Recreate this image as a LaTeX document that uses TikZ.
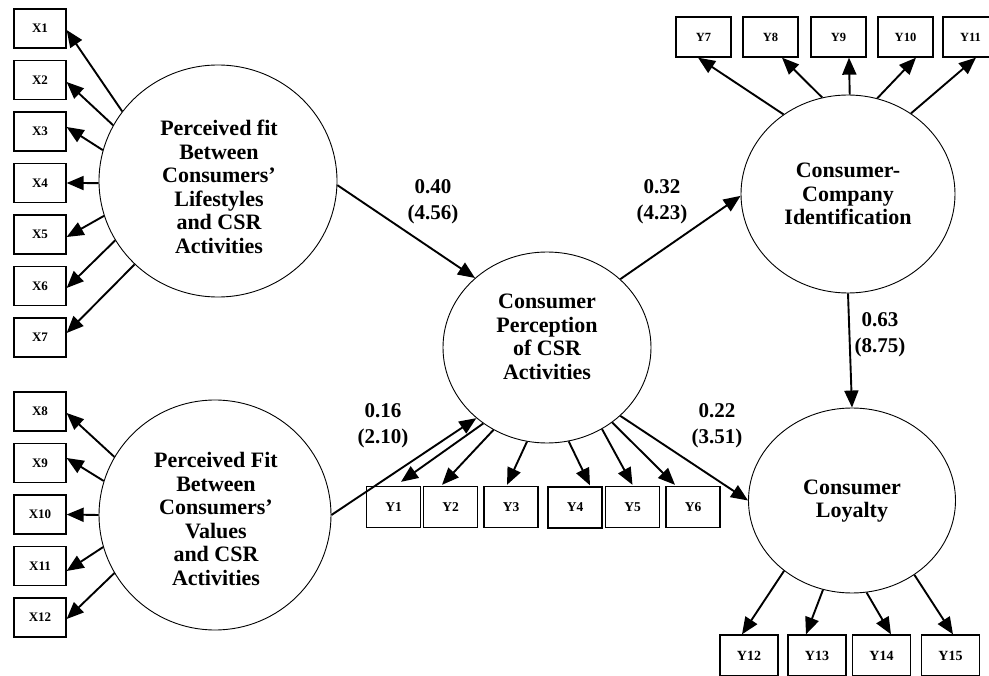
\documentclass[tikz,border=0pt]{standalone}
\usepackage{fontspec}
\setmainfont{Liberation Serif}
\usetikzlibrary{shapes.geometric,arrows.meta}
\tikzset{
  lat/.style={ellipse, draw, line width=0.9pt, inner sep=0pt},
  lattext/.style={font=\fontsize{22}{23.5}\selectfont\bfseries, align=center, inner sep=0pt},
  indbox/.style={rectangle, draw, line width=1.3pt, inner sep=0pt},
  xbox/.style={indbox, minimum width=52pt, minimum height=39pt, font=\fontsize{13}{13}\selectfont\bfseries},
  ybox/.style={indbox, minimum width=54pt, minimum height=41pt, font=\fontsize{13.5}{13.5}\selectfont\bfseries},
  ytop/.style={indbox, minimum width=55pt, minimum height=40pt, font=\fontsize{12.5}{12.5}\selectfont\bfseries},
  ybot/.style={indbox, minimum width=58pt, minimum height=41pt, font=\fontsize{14}{14}\selectfont\bfseries},
  pathlbl/.style={font=\fontsize{21}{26.5}\selectfont\bfseries, align=center, inner sep=0pt},
  arr/.style={line width=1.9pt, -{Triangle[length=17pt,width=14pt]}}
}
\begin{document}
\begin{tikzpicture}[x=1pt,y=-1pt]
\useasboundingbox (0,0) rectangle (989,676);
\clip (0,0) rectangle (989,676);
\fill[white] (0,0) rectangle (989,676);

% latent variables
\node[lat, minimum width=238pt, minimum height=232pt] (c1) at (218,181) {};
\node[lat, minimum width=232pt, minimum height=230pt] (c2) at (215,515) {};
\node[lat, minimum width=208pt, minimum height=191pt] (cp) at (547,347.5) {};
\node[lat, minimum width=214pt, minimum height=198pt] (ci) at (848,194) {};
\node[lat, minimum width=207pt, minimum height=185pt] (cl) at (852,500.5) {};

\node[lattext] (t1) at (219,187) {Perceived fit\\Between\\Consumers’\\Lifestyles\\and CSR\\Activities};
\node[lattext] (t2) at (216,519) {Perceived Fit\\Between\\Consumers’\\Values\\and CSR\\Activities};
\node[lattext] (tp) at (547,337) {Consumer\\Perception\\of CSR\\Activities};
\node[lattext] (ti) at (848,194) {Consumer-\\Company\\Identification};
\node[lattext] (tl) at (852,501) {Consumer\\Loyalty};

% X indicators
\node[xbox] (x1) at (40,28.5) {X1};
\node[xbox] (x2) at (40,80) {X2};
\node[xbox] (x3) at (40,131.5) {X3};
\node[xbox] (x4) at (40,183) {X4};
\node[xbox] (x5) at (40,234.5) {X5};
\node[xbox] (x6) at (40,286) {X6};
\node[xbox] (x7) at (40,337.5) {X7};
\node[xbox] (x8) at (40,411.5) {X8};
\node[xbox] (x9) at (40,463) {X9};
\node[xbox] (x10) at (40,514.5) {X10};
\node[xbox] (x11) at (40,566) {X11};
\node[xbox] (x12) at (40,617.5) {X12};

% Y indicators
\node[ybox] (y1) at (393.5,507) {Y1};
\node[ybox] (y2) at (450.5,507) {Y2};
\node[ybox] (y3) at (511,507) {Y3};
\node[ybox] (y4) at (575,507.5) {Y4};
\node[ybox] (y5) at (632.5,507) {Y5};
\node[ybox] (y6) at (693,507) {Y6};
\node[ytop] (y7) at (703.5,37) {Y7};
\node[ytop] (y8) at (770.5,37) {Y8};
\node[ytop] (y9) at (838.5,37) {Y9};
\node[ytop] (y10) at (905.5,37) {Y10};
\node[ytop] (y11) at (970.5,37) {Y11};
\node[ybot] (y12) at (749,655.5) {Y12};
\node[ybot] (y13) at (817,655.5) {Y13};
\node[ybot] (y14) at (881.5,655.5) {Y14};
\node[ybot] (y15) at (950.5,655.5) {Y15};

% loadings, first construct
\draw[arr] (c1.144.3) -- ([yshift=-1.5pt]x1.east);
\draw[arr] (c1.152.8) -- ([yshift=-2pt]x2.east);
\draw[arr] (c1.165.7) -- ([yshift=4.5pt]x3.east);
\draw[arr] (c1.181) -- (x4.east);
\draw[arr] (c1.197.1) -- ([yshift=-2.5pt]x5.east);
\draw[arr] (c1.210.7) -- ([yshift=-2pt]x6.east);
\draw[arr] (c1.225.7) -- ([yshift=4.5pt]x7.east);

% loadings, second construct
\draw[arr] (c2.150.7) -- ([yshift=-1.5pt]x8.east);
\draw[arr] (c2.163.4) -- ([yshift=5pt]x9.east);
\draw[arr] (c2.180) -- (x10.east);
\draw[arr] (c2.196.1) -- ([yshift=-5pt]x11.east);
\draw[arr] (c2.210.6) -- ([yshift=-1.5pt]x12.east);

% loadings, perception
\draw[arr] (cp.230.2) -- ([xshift=7.5pt,yshift=4pt]y1.north);
\draw[arr] (cp.237.6) -- ([xshift=-8.5pt,yshift=1pt]y2.north);
\draw[arr] (cp.258.2) -- ([xshift=-4pt,yshift=1pt]y3.north);
\draw[arr] (cp.283.5) -- ([xshift=15pt,yshift=1pt]y4.north);
\draw[arr] (cp.304.2) -- ([yshift=1pt]y5.north);
\draw[arr] (cp.311.1) -- ([xshift=-18pt,yshift=1pt]y6.north);

% loadings, identification
\draw[arr] (ci.129.1) -- ([xshift=-5.5pt]y7.south);
\draw[arr] (ci.105) -- ([xshift=11.5pt]y8.south);
\draw[arr] (ci.89.4) -- ([xshift=10.5pt]y9.south);
\draw[arr] (ci.73.9) -- ([xshift=10.5pt]y10.south);
\draw[arr] (ci.52.2) -- ([xshift=5.5pt]y11.south);

% loadings, loyalty
\draw[arr] (cl.226.6) -- ([xshift=-7pt]y12.north);
\draw[arr] (cl.252.1) -- ([xshift=-11pt]y13.north);
\draw[arr] (cl.279.8) -- ([xshift=9.5pt]y14.north);
\draw[arr] (cl.310.2) -- ([xshift=2.5pt]y15.north);

% structural paths
\draw[arr] (c1.358) -- (cp.136.6);
\draw[arr] (c2.0) -- (cp.225.2);
\draw[arr] (cp.43.6) -- (ci.181.6);
\draw[arr] (cp.317.2) -- (cl.180);
\draw[arr] (ci.270) -- (cl.90);

% path labels
\node[pathlbl] (l1) at (433,202) {0.40\\(4.56)};
\node[pathlbl] (l2) at (662,202) {0.32\\(4.23)};
\node[pathlbl] (l3) at (383,426) {0.16\\(2.10)};
\node[pathlbl] (l4) at (717,426) {0.22\\(3.51)};
\node[pathlbl] (l5) at (880,335) {0.63\\(8.75)};
\end{tikzpicture}
\end{document}
